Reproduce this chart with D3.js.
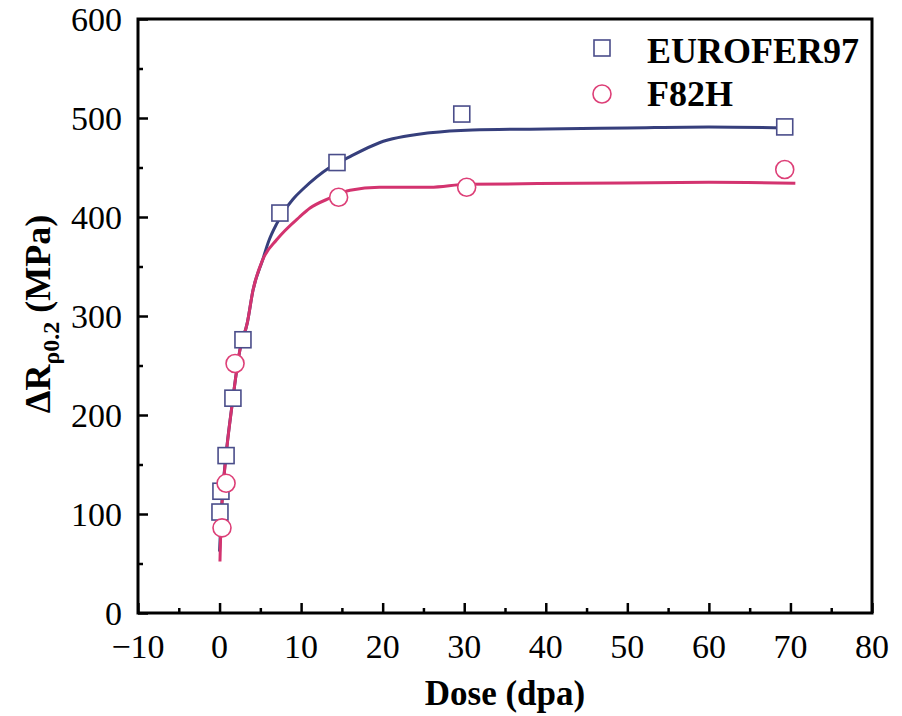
<!DOCTYPE html>
<html>
<head>
    <meta charset="UTF-8">
    <script src="https://cdn.jsdelivr.net/npm/d3@7/dist/d3.min.js"></script>
    <style>
        body { margin: 0; background: #fff; }
        svg text { font-family: "Liberation Serif", "Times New Roman", serif; }
    </style>
</head>
<body>
<div id="chart"></div>
<script>
    // measured points
    var euroX = [0.05, 0.17, 0.8, 1.64, 2.87, 7.4, 14.4, 29.7, 69.3];
    var euroY = [102, 123, 159, 217, 276, 404, 455, 504, 491];
    var f82X = [0.3, 0.8, 1.9, 14.6, 30.3, 69.3];
    var f82Y = [86, 131, 252, 420, 430, 448];

    // fitted curves
    var euroFitX = [0, 0.17, 0.4, 0.9, 1.5, 2.5, 3.4, 4.1, 5.3, 6.0, 7.0, 8.0, 9.0, 10.2, 13.5, 16, 19.6, 25.8, 31, 40, 50, 60, 69.5];
    var euroFitY = [62, 94, 124, 168, 208, 266, 293, 326, 357, 375, 393, 407, 418, 428, 450, 461, 475, 485, 488, 489, 490, 491, 490];
    var f82FitX = [0.05, 0.17, 0.4, 0.9, 1.5, 2.5, 3.4, 4.1, 5.3, 7.0, 9.8, 11.1, 13.5, 16, 19.6, 25.8, 30.3, 44, 60, 70.6];
    var f82FitY = [52, 90, 122, 167, 208, 266, 293, 326, 357, 377, 400, 409, 419, 427, 430, 430, 433, 434, 435, 434];

    var xTicks = [-10, 0, 10, 20, 30, 40, 50, 60, 70, 80];
    var yTicks = [0, 100, 200, 300, 400, 500, 600];

    var blue = "#363f7c", pink = "#d3336f";
    var blueMk = "#4a4d8a", pinkMk = "#dd3f77";

    var width = 902, height = 716;
    var margin = {left: 138, right: 30, top: 19, bottom: 103};

    var svg = d3.select("#chart").append("svg")
            .attr("width", width).attr("height", height);

    var x = d3.scaleLinear().domain([-10, 80]).range([margin.left, width - margin.right]);
    var y = d3.scaleLinear().domain([0, 600]).range([height - margin.bottom, margin.top]);

    function zip(a, b) { return a.map(function(d, i) { return [d, b[i]]; }); }

    // minor + major ticks, inward
    var xAxis = d3.axisTop(x).tickValues(xTicks).tickSize(10).tickFormat("");
    var xMinor = d3.axisTop(x).tickValues(d3.range(-5, 80, 10)).tickSize(5).tickFormat("");
    var yAxis = d3.axisRight(y).tickValues(yTicks).tickSize(10).tickFormat("");
    var yMinor = d3.axisRight(y).tickValues(d3.range(50, 600, 100)).tickSize(5).tickFormat("");

    [xAxis, xMinor].forEach(function(ax) {
        svg.append("g").attr("transform", "translate(0," + y(0) + ")").call(ax)
                .call(function(g) { g.select(".domain").remove(); })
                .selectAll("line").attr("stroke", "#000").attr("stroke-width", 2.5);
    });
    [yAxis, yMinor].forEach(function(ax) {
        svg.append("g").attr("transform", "translate(" + x(-10) + ",0)").call(ax)
                .call(function(g) { g.select(".domain").remove(); })
                .selectAll("line").attr("stroke", "#000").attr("stroke-width", 2.5);
    });

    // tick labels
    svg.append("g").selectAll("text").data(xTicks).enter().append("text")
            .attr("x", function(d) { return x(d); })
            .attr("y", 658)
            .attr("text-anchor", "middle")
            .style("font-size", "34px")
            .text(function(d) { return d < 0 ? "\u2212" + Math.abs(d) : d; });
    svg.append("g").selectAll("text").data(yTicks).enter().append("text")
            .attr("x", 122)
            .attr("y", function(d) { return y(d) + 12; })
            .attr("text-anchor", "end")
            .style("font-size", "34px")
            .text(function(d) { return d; });

    // fit lines
    var line = d3.line().x(function(d) { return x(d[0]); }).y(function(d) { return y(d[1]); })
            .curve(d3.curveMonotoneX);
    svg.append("path").datum(zip(euroFitX, euroFitY)).attr("d", line)
            .attr("fill", "none").attr("stroke", blue).attr("stroke-width", 3);
    svg.append("path").datum(zip(f82FitX, f82FitY)).attr("d", line)
            .attr("fill", "none").attr("stroke", pink).attr("stroke-width", 3);

    // markers
    svg.append("g").selectAll("rect").data(zip(euroX, euroY)).enter().append("rect")
            .attr("x", function(d) { return x(d[0]) - 8; })
            .attr("y", function(d) { return y(d[1]) - 8; })
            .attr("width", 16).attr("height", 16)
            .attr("fill", "#fff").attr("stroke", blueMk).attr("stroke-width", 1.6);
    svg.append("g").selectAll("circle").data(zip(f82X, f82Y)).enter().append("circle")
            .attr("cx", function(d) { return x(d[0]); })
            .attr("cy", function(d) { return y(d[1]); })
            .attr("r", 9)
            .attr("fill", "#fff").attr("stroke", pinkMk).attr("stroke-width", 1.6);

    // frame
    svg.append("rect")
            .attr("x", x(-10)).attr("y", y(600))
            .attr("width", x(80) - x(-10)).attr("height", y(0) - y(600))
            .attr("fill", "none").attr("stroke", "#000").attr("stroke-width", 3);

    // legend
    svg.append("rect").attr("x", 594).attr("y", 40).attr("width", 16).attr("height", 16)
            .attr("fill", "#fff").attr("stroke", blueMk).attr("stroke-width", 1.6);
    svg.append("circle").attr("cx", 602).attr("cy", 94).attr("r", 9)
            .attr("fill", "#fff").attr("stroke", pinkMk).attr("stroke-width", 1.6);
    svg.append("text").attr("x", 647).attr("y", 63)
            .style("font-size", "36px").style("font-weight", "bold").text("EUROFER97");
    svg.append("text").attr("x", 647).attr("y", 106)
            .style("font-size", "36px").style("font-weight", "bold").text("F82H");

    // axis titles
    svg.append("text").attr("x", x(35)).attr("y", 705)
            .attr("text-anchor", "middle")
            .style("font-size", "35px").style("font-weight", "bold").text("Dose (dpa)");

    var yt = svg.append("text")
            .attr("transform", "translate(50,314) rotate(-90)")
            .attr("text-anchor", "middle")
            .style("font-size", "36px").style("font-weight", "bold");
    yt.append("tspan").text("\u0394R");
    yt.append("tspan").attr("dy", 9).style("font-size", "24px").text("\u03c10.2");
    yt.append("tspan").attr("dy", -9).text(" (MPa)");
</script>
</body>
</html>
